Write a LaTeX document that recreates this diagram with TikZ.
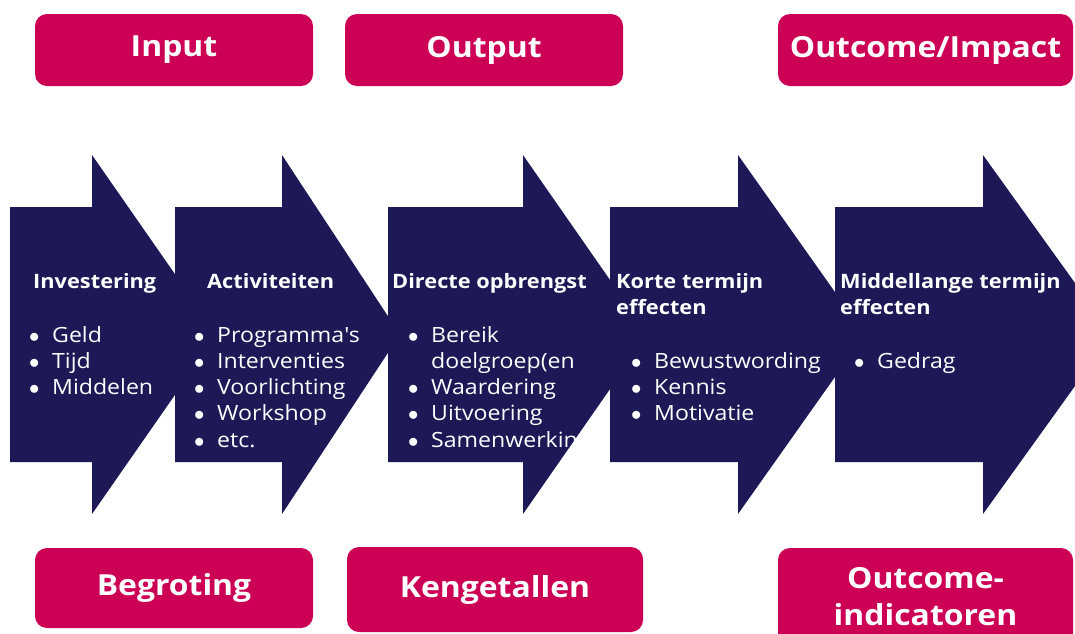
\documentclass[tikz,border=0pt]{standalone}
\usepackage{fontspec}
\setmainfont{Open Sans}[FakeStretch=1.1]
\definecolor{navy}{RGB}{28,25,86}
\definecolor{roze}{RGB}{204,0,84}
\tikzset{
    kop/.style={text=white,font=\bfseries\fontsize{19.8}{26}\selectfont,anchor=base west,inner sep=0pt},
    punt/.style={text=white,font=\fontsize{21}{26}\selectfont,anchor=base west,inner sep=0pt},
    kader/.style={fill=roze,rounded corners=12pt,text=white,font=\bfseries\fontsize{29}{37}\selectfont,align=center,inner sep=0pt}
}
\newcommand{\bol}{\makebox[23pt][l]{$\bullet$}}
\newcommand{\inspring}{\hspace*{23pt}}
\begin{document}
\begin{tikzpicture}[x=1pt,y=-1pt]
        \useasboundingbox (0,0) rectangle (1075,633);
        % Draw boxes above the arrows
        \node[kader,minimum width=278pt,minimum height=72pt] (input) at (174,50) {Input};
        \node[kader,minimum width=278pt,minimum height=72pt] (output) at (484,50) {Output};
        \node[kader,minimum width=295pt,minimum height=72pt] (impact) at (925.5,50) {Outcome/Impact};
        % Draw boxes below the arrows
        \node[kader,minimum width=278pt,minimum height=80pt] (begroting) at (174,588) {Begroting};
        \node[kader,minimum width=296pt,minimum height=85pt] (kengetallen) at (495,589.5) {Kengetallen};
        \node[kader,minimum width=295pt,minimum height=97pt] (indicatoren) at (925.5,596.5) {Outcome-\\indicatoren};
        % Draw first arrow
        \fill[navy] (10,207) -- (92,207) -- (92,155) -- (217,334.5) -- (92,514) -- (92,462) -- (10,462) -- cycle;
        \node[kop] (investering) at (33,288) {Investering};
        \foreach \tekst [count=\i] in {\bol Geld,\bol Tijd,\bol Middelen}
            \node[punt] (investering-\i) at (29,{342+26.3*(\i-1)}) {\tekst};
        % Draw second arrow
        \fill[navy] (175,207) -- (282,207) -- (282,155) -- (400,334.5) -- (282,514) -- (282,462) -- (175,462) -- cycle;
        \node[kop] (activiteiten) at (207,288) {Activiteiten};
        \foreach \tekst [count=\i] in {\bol Programma\textquotesingle s,\bol Interventies,\bol Voorlichting,\bol Workshop,\bol etc.}
            \node[punt] (activiteiten-\i) at (194,{342+26.3*(\i-1)}) {\tekst};
        % Draw third arrow
        \fill[navy] (388,207) -- (523,207) -- (523,155) -- (648,334.5) -- (523,514) -- (523,462) -- (388,462) -- cycle;
        \node[kop] (opbrengst) at (392,288) {Directe opbrengst};
        \foreach \tekst [count=\i] in {\bol Bereik,\inspring doelgroep(en,\bol Waardering,\bol Uitvoering,\bol Samenwerkin}
            \node[punt] (opbrengst-\i) at (408,{342+26.3*(\i-1)}) {\tekst};
        % Draw fourth arrow
        \fill[navy] (610,207) -- (738,207) -- (738,155) -- (865,334.5) -- (738,514) -- (738,462) -- (610,462) -- cycle;
        \node[kop] (korte) at (616,288) {Korte termijn};
        \node[kop] (korte-2) at (616,314) {effecten};
        \foreach \tekst [count=\i] in {\bol Bewustwording,\bol Kennis,\bol Motivatie}
            \node[punt] (korte-punt-\i) at (631,{368.3+26.3*(\i-1)}) {\tekst};
        % Draw fifth arrow (tip runs off the page)
        \fill[navy] (835,207) -- (983,207) -- (983,155) -- (1112,334.5) -- (983,514) -- (983,462) -- (835,462) -- cycle;
        \node[kop] (middellange) at (840,288) {Middellange termijn};
        \node[kop] (middellange-2) at (840,314) {effecten};
        \node[punt] (gedrag) at (854,368.3) {\bol Gedrag};
    \end{tikzpicture}
\end{document}
